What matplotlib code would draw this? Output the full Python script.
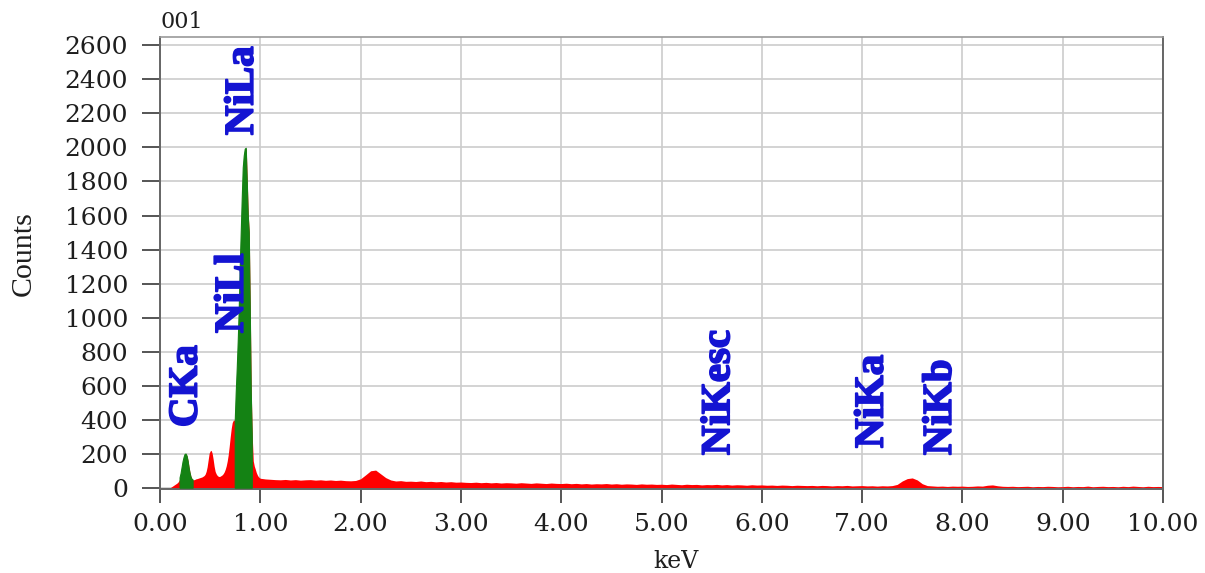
import matplotlib
matplotlib.use("Agg")
import matplotlib.pyplot as plt
import matplotlib.patheffects as pe
import numpy as np

# EDS spectrum, sample 001
# fine channels below 1 keV (0.01 keV step)
energy_low = np.round(np.arange(0, 100) * 0.01, 2)
counts_low = [
    0, 0, 0, 0, 0, 0, 0, 0, 0, 0,
    2, 6, 10, 14, 18, 22, 26, 30, 36, 45,
    60, 85, 120, 155, 180, 198, 200, 188, 160, 120,
    88, 64, 52, 48, 50, 52, 55, 56, 58, 60,
    62, 64, 66, 70, 74, 82, 98, 125, 165, 205,
    218, 222, 205, 170, 128, 98, 84, 75, 70, 68,
    70, 74, 78, 85, 95, 110, 130, 158, 195, 245,
    300, 350, 385, 398, 400, 390, 560, 700, 860, 1050,
    1300, 1500, 1700, 1880, 1950, 1990, 1995, 1800, 1600, 1500,
    1050, 560, 300, 160, 130, 112, 92, 78, 68, 62,
]

# coarser channels from 1 to 10 keV (0.05 keV step)
energy_high = np.round(1.0 + np.arange(0, 181) * 0.05, 2)
counts_high = [
    58, 54, 52, 50, 49, 51, 48, 50, 47, 49,
    50, 47, 49, 46, 48, 45, 47, 44, 43, 45,
    55, 78, 102, 106, 84, 62, 48, 42, 44, 40,
    41, 39, 42, 38, 40, 37, 39, 36, 38, 35,
    36, 34, 33, 35, 32, 34, 31, 33, 30, 32,
    31, 29, 32, 30, 28, 31, 29, 27, 30, 28,
    27, 29, 26, 28, 25, 27, 24, 26, 25, 27,
    24, 26, 23, 25, 24, 22, 25, 23, 24, 22,
    23, 21, 24, 22, 20, 23, 21, 22, 19, 21,
    20, 22, 19, 21, 18, 20, 19, 17, 20, 18,
    19, 17, 18, 16, 18, 17, 15, 17, 16, 15,
    16, 14, 16, 15, 13, 15, 14, 16, 13, 14,
    15, 13, 14, 12, 14, 13, 15, 22, 42, 56,
    60, 48, 26, 15, 13, 11, 12, 10, 12, 11,
    12, 10, 11, 13, 12, 17, 19, 14, 11, 10,
    11, 9, 10, 11, 8, 10, 9, 11, 10, 8,
    9, 11, 8, 10, 9, 12, 8, 10, 11, 9,
    10, 8, 11, 9, 12, 10, 8, 11, 9, 10,
    9,
]

# identified peak windows (keV) shaded green
peak_windows = [(0.20, 0.33), (0.75, 0.92)]

# line labels: text, energy (keV), counts at label start
line_names = ["CKa", "NiLl", "NiLa", "NiKesc", "NiKa", "NiKb"]
line_energy = [0.27, 0.73, 0.83, 5.58, 7.11, 7.79]
line_height = [358, 910, 2072, 194, 235, 194]

energy = np.concatenate([energy_low, energy_high])
counts = np.array(counts_low + counts_high, dtype=float)

fig = plt.figure(figsize=(12.05, 5.73), dpi=100)
ax = fig.add_axes([160 / 1205, 1 - 489 / 573, 1003 / 1205, 452 / 573])

ax.fill_between(energy, 0, counts, color="#ff0000", lw=0, zorder=2)
in_peak = np.zeros(len(energy), dtype=bool)
for lo, hi in peak_windows:
    in_peak |= (energy >= lo - 1e-9) & (energy <= hi + 1e-9)
ax.fill_between(energy, 0, counts, where=in_peak, facecolor="#148214",
                edgecolor="#148214", lw=0.8, zorder=3)

blue = "#1414d2"
for name, e, h in zip(line_names, line_energy, line_height):
    ax.text(e, h, name, rotation=90, ha="center", va="bottom", color=blue,
            fontsize=29.5, fontweight="bold", family="Liberation Serif", zorder=4,
            path_effects=[pe.withStroke(linewidth=1.3, foreground=blue)])

ax.set_xlim(0, 10)
ax.set_ylim(-5, 2648)
ax.set_xticks(np.arange(0, 11, 1))
ax.set_xticklabels([f"{v:.2f}" for v in np.arange(0, 11, 1)])
ax.set_yticks(np.arange(0, 2601, 200))

ax.set_axisbelow(True)
ax.grid(True, color="#cccccc", lw=1.2)

for side in ["left", "right", "bottom"]:
    ax.spines[side].set_color("#666666")
    ax.spines[side].set_linewidth(1.4)
ax.spines["top"].set_color("#999999")
ax.spines["top"].set_linewidth(1.2)

ax.tick_params(axis="y", length=13, width=1.4, color="#555555", pad=10,
               labelsize=18, labelcolor="#1e1e1e")
ax.tick_params(axis="x", length=10, width=1.4, color="#555555", pad=7,
               labelsize=18, labelcolor="#1e1e1e")
for lab in ax.get_xticklabels() + ax.get_yticklabels():
    lab.set_family("DejaVu Serif")

fig.text(160 / 1205, 1 - 22 / 573, "001", ha="left", va="center",
         family="DejaVu Serif", fontsize=16, color="#1e1e1e")
fig.text(676 / 1205, 1 - 561 / 573, "keV", ha="center", va="center",
         family="DejaVu Serif", fontsize=17, color="#1e1e1e")
fig.text(24 / 1205, 1 - 254 / 573, "Counts", ha="center", va="center",
         rotation=90, family="Liberation Serif", fontsize=21.5, color="#1e1e1e")

fig.savefig("out.png", dpi=100)
